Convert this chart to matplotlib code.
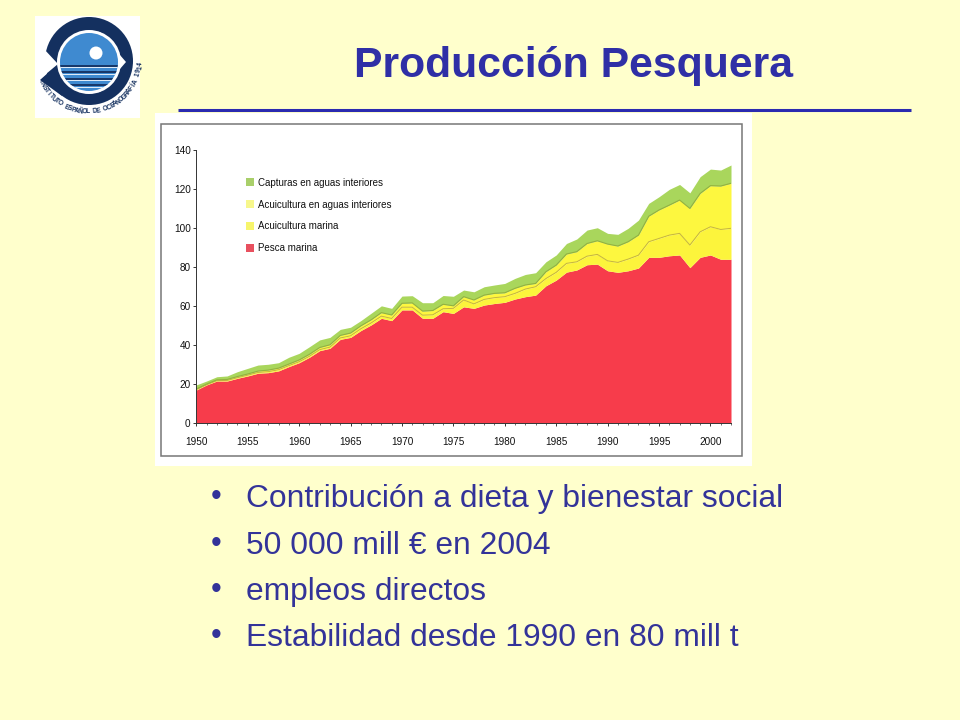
import numpy as np
import matplotlib
matplotlib.use("Agg")
import matplotlib.pyplot as plt
from matplotlib.patches import Rectangle, Circle, Polygon

years = list(range(1950, 2003))

# top of each stacked layer, million t
pesca_marina = [16.8, 19.4, 21.4, 21.4, 22.8, 24.0, 25.4, 25.7, 26.6, 28.8, 30.8, 33.6, 37.0, 38.2, 42.8, 43.8, 47.3, 50.2, 53.6, 52.4,
                57.9, 57.9, 53.6, 53.6, 57.0, 56.1, 59.5, 58.7, 60.4, 61.2, 61.8, 63.5, 64.7, 65.5, 70.3, 73.2, 77.3, 78.4, 81.1, 81.4,
                78.0, 77.2, 78.0, 79.4, 84.9, 84.9, 85.7, 86.1, 79.6, 84.9, 86.1, 83.9, 83.9]
acui_marina = [17.0, 19.5, 21.6, 21.7, 23.1, 24.4, 25.8, 26.2, 27.2, 29.3, 31.3, 34.1, 37.5, 38.8, 43.5, 44.6, 48.2, 51.2, 54.7, 53.5,
               59.3, 59.3, 55.2, 55.4, 58.5, 58.7, 63.0, 61.0, 63.3, 64.2, 64.7, 66.4, 68.6, 69.8, 74.0, 77.2, 81.8, 82.6, 85.5, 86.4,
               83.1, 82.3, 84.0, 86.0, 92.9, 94.6, 96.3, 97.2, 91.2, 98.0, 100.6, 99.2, 99.8]
acui_interior = [17.3, 19.8, 22.0, 22.2, 23.7, 25.0, 26.5, 27.0, 28.0, 30.1, 32.2, 35.1, 38.6, 40.0, 44.8, 46.0, 49.7, 52.8, 56.5, 55.3,
                 61.3, 61.5, 57.3, 57.6, 60.8, 60.0, 64.7, 63.0, 65.5, 66.4, 66.7, 69.0, 70.7, 71.5, 77.5, 80.9, 86.6, 87.8, 92.0, 93.4,
                 91.7, 90.7, 92.9, 96.3, 106.0, 109.2, 111.7, 114.3, 110.0, 117.7, 121.7, 121.5, 122.9]
capturas = [19.4, 21.4, 23.6, 24.0, 26.2, 27.9, 29.6, 30.0, 30.8, 33.6, 35.6, 39.0, 42.5, 43.8, 47.9, 49.0, 52.4, 56.2, 60.0, 58.7,
            65.0, 65.2, 61.6, 61.6, 65.3, 64.9, 68.1, 67.2, 69.8, 70.7, 71.5, 74.1, 76.1, 77.0, 82.6, 86.1, 92.0, 94.3, 98.9, 100.1,
            97.2, 96.7, 99.8, 104.0, 112.6, 116.0, 119.8, 122.3, 118.0, 126.3, 130.2, 129.7, 132.3]

legend_labels = ["Capturas en aguas interiores", "Acuicultura en aguas interiores", "Acuicultura marina", "Pesca marina"]
bullets = ["Contribución a dieta y bienestar social", "50 000 mill € en 2004", "empleos directos", "Estabilidad desde 1990 en 80 mill t"]
bullet_y = [507, 553.5, 600, 646.5]
title = "Producción Pesquera"
logo_text = "INSTITUTO ESPAÑOL DE OCEANOGRAFÍA 1914"

BG = "#FFFFCC"
NAVY = "#2F2FA6"
BULLET = "#333399"
W, H = 960, 720

plt.rcParams["font.family"] = ["Liberation Sans", "DejaVu Sans"]
fig = plt.figure(figsize=(9.6, 7.2), dpi=100, facecolor=BG)

# slide layer in pixel coordinates
bg = fig.add_axes([0, 0, 1, 1])
bg.set_xlim(0, W)
bg.set_ylim(H, 0)
bg.axis("off")

bg.text(574, 77, title, fontsize=30.8, fontweight="bold", color=NAVY, ha="center", va="baseline")
bg.plot([178, 911], [110, 110], color="#2A2AB0", lw=2.2, solid_capstyle="butt")

# white panel with grey frame behind the chart
bg.add_patch(Rectangle((155, 113), 597, 353, fc="white", ec="none"))
bg.add_patch(Rectangle((161, 124), 581, 332, fc="white", ec="#777777", lw=1.1))

for y, line in zip(bullet_y, bullets):
    bg.text(211, y - 2, "•", fontsize=22, color=BULLET, ha="left", va="baseline")
    bg.text(246, y, line, fontsize=22.9, color=BULLET, ha="left", va="baseline")

# logo
LOGO_DARK = "#14305F"
LOGO_BLUE = "#3F8AD0"
bg.add_patch(Rectangle((35, 16), 105, 102, fc="white", ec="none"))
bg.add_patch(Circle((89, 61), 44, fc=LOGO_DARK, ec="none"))
bg.add_patch(Polygon([(40, 80), (60, 62), (62, 96)], fc=LOGO_DARK, ec="none"))
bg.add_patch(Polygon([(58, 64), (44, 49), (35, 49), (35, 79), (40, 79)], fc="white", ec="none"))
bg.add_patch(Circle((89, 62), 32, fc="white", ec="none"))
bg.add_patch(Polygon([(100, 32), (126, 62), (100, 92)], fc="white", ec="none"))
disc = Circle((89, 62), 29, fc=LOGO_BLUE, ec="none", zorder=3)
bg.add_patch(disc)
bg.add_patch(Circle((96, 53), 6.5, fc="white", ec="none", zorder=4))
for yy in [65.5, 72, 78.5, 85]:
    for off, c, w in [(0, LOGO_DARK, 1.3), (1.6, "white", 0.6)]:
        ln, = bg.plot([55, 125], [yy + off, yy + off], color=c, lw=w, zorder=5)
        ln.set_clip_path(disc)
# logo text runs along the lower arc
for ch, ang in zip(logo_text, np.linspace(154, 7, len(logo_text))):
    r = np.radians(ang)
    bg.text(88 + 53 * np.cos(r), 57 + 55 * np.sin(r), ch, fontsize=4.8, fontweight="bold", color=LOGO_DARK,
            rotation=90 - ang, rotation_mode="anchor", ha="center", va="center", zorder=6)

# chart
x0, x1 = 196.3, 731.0
y0, y1 = 422.7, 150.0
ax = fig.add_axes([x0 / W, 1 - y0 / H, (x1 - x0) / W, (y0 - y1) / H])
ax.patch.set_alpha(0)
ax.fill_between(years, 0, pesca_marina, color="#F73C4B", lw=0)
ax.fill_between(years, pesca_marina, acui_marina, color="#FCF43C", lw=0)
ax.fill_between(years, acui_marina, acui_interior, color="#FDF73F", lw=0)
ax.fill_between(years, acui_interior, capturas, color="#A9D65C", lw=0)
ax.plot(years, acui_marina, color="#C4B440", lw=0.7)
ax.plot(years, acui_interior, color="#93B23E", lw=0.8)

ax.set_xlim(1950, 2002)
ax.set_ylim(0, 140)
ax.set_xticks(range(1950, 2001, 5))
ax.set_xticks(years, minor=True)
ax.set_yticks(range(0, 141, 20))
ax.tick_params(axis="both", which="major", labelsize=7.2, length=2.5, width=0.7, color="#333333", labelcolor="#111111")
ax.tick_params(axis="y", pad=1.5)
ax.tick_params(axis="x", pad=8)
ax.tick_params(axis="x", which="minor", length=1.5, width=0.5, color="#333333")
for side in ["top", "right"]:
    ax.spines[side].set_visible(False)
for side in ["left", "bottom"]:
    ax.spines[side].set_linewidth(0.7)
    ax.spines[side].set_color("#333333")

# legend squares and labels, same order as the reference
legend_colors = ["#A9CF6A", "#F7F78C", "#F7F56C", "#E8505F"]
handles = [Rectangle((0, 0), 1, 1, fc=c, ec="none") for c in legend_colors]
leg = ax.legend(handles, legend_labels, loc="upper left", bbox_to_anchor=(0.093, 0.899), frameon=False,
                fontsize=7, handlelength=0.85, handleheight=0.95, handletextpad=0.35, labelspacing=1.23,
                borderpad=0, borderaxespad=0)
for t in leg.get_texts():
    t.set_color("#111111")

fig.savefig("out.png", dpi=100, facecolor=BG)
